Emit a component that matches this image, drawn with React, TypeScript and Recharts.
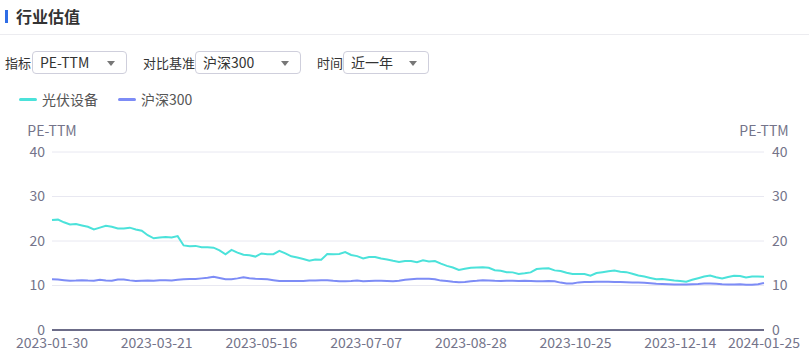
import React from 'react';
import { LineChart, Line, XAxis, YAxis, CartesianGrid } from 'recharts';

const seriesNames = ['光伏设备', '沪深300'];
const seriesColors = ['#4be2da', '#7d8cf6'];

const pvValues = [
  24.7, 24.8, 24.2, 23.7, 23.8, 23.5, 23.2, 22.6, 23.0, 23.4,
  23.2, 22.8, 22.8, 23.0, 22.6, 22.3, 21.3, 20.6, 20.8, 20.9,
  20.8, 21.1, 19.0, 18.8, 18.9, 18.6, 18.6, 18.5, 17.9, 17.0,
  18.0, 17.4, 16.9, 16.8, 16.5, 17.2, 17.05, 17.05, 17.8, 17.2,
  16.55, 16.3, 15.95, 15.55, 15.85, 15.8, 17.05, 17.0, 17.1, 17.5,
  16.85, 16.6, 16.1, 16.4, 16.4, 16.05, 15.85, 15.55, 15.3, 15.5,
  15.5, 15.25, 15.65, 15.4, 15.5, 14.9, 14.4, 14.05, 13.5, 13.75,
  14.0, 14.05, 14.1, 14.0, 13.45, 13.3, 13.0, 12.95, 12.6, 12.75,
  12.95, 13.7, 13.8, 13.85, 13.4, 13.25, 12.85, 12.6, 12.6, 12.6,
  12.2, 12.8, 13.0, 13.2, 13.35, 13.1, 13.0, 12.65, 12.25, 12.0,
  11.7, 11.4, 11.45, 11.3, 11.1, 11.0, 10.85, 11.3, 11.65, 12.0,
  12.25, 11.85, 11.6, 11.9, 12.2, 12.15, 11.8, 12.0, 12.05, 11.95,
];

const hs300Values = [
  11.4, 11.35, 11.2, 11.05, 11.1, 11.2, 11.1, 11.05, 11.3, 11.1,
  11.05, 11.35, 11.35, 11.15, 11.0, 11.05, 11.1, 11.05, 11.2, 11.2,
  11.15, 11.3, 11.4, 11.45, 11.45, 11.6, 11.75, 11.95, 11.7, 11.4,
  11.4, 11.6, 11.85, 11.65, 11.5, 11.45, 11.4, 11.2, 11.0, 11.0,
  11.0, 11.0, 11.0, 11.15, 11.15, 11.2, 11.2, 11.05, 10.95, 10.95,
  11.0, 11.1, 10.95, 11.0, 11.05, 11.05, 11.0, 10.95, 11.05, 11.3,
  11.4, 11.5, 11.5, 11.5, 11.4, 11.1, 11.0, 10.85, 10.75, 10.8,
  10.95, 11.05, 11.2, 11.15, 11.05, 11.0, 11.05, 11.05, 11.0, 11.05,
  11.0, 10.95, 10.95, 11.0, 10.95, 10.65, 10.45, 10.45, 10.7, 10.8,
  10.8, 10.85, 10.85, 10.85, 10.8, 10.8, 10.75, 10.7, 10.65, 10.6,
  10.5, 10.4, 10.35, 10.3, 10.25, 10.25, 10.25, 10.3, 10.35, 10.45,
  10.45, 10.4, 10.3, 10.25, 10.25, 10.3, 10.15, 10.15, 10.3, 10.55,
];

const tickLabels = ['2023-01-30', '2023-03-21', '2023-05-16', '2023-07-07', '2023-08-28', '2023-10-25', '2023-12-14', '2024-01-25'];
const tickPositions = [0, 17.5, 35, 52.5, 70, 87.5, 105, 119];
const yTicks = [0, 10, 20, 30, 40];

const data = pvValues.map((v, i) => ({ idx: i, pv: v, hs: hs300Values[i] }));

const FONT = '"Noto Sans CJK SC", "Noto Sans", sans-serif';
const AXIS_COLOR = '#74748a';

const AxisTitle = (props: any) => {
  const vb = props.viewBox || {};
  const x = props.side === 'left' ? vb.x + vb.width : vb.x;
  return (
    <text x={x} y={vb.y - 22} textAnchor="middle" dominantBaseline="central" fill={AXIS_COLOR} fontSize={14}>
      PE-TTM
    </text>
  );
};

const Select = ({ left, width, text }: { left: number; width: number; text: string }) => (
  <div style={{
    position: 'absolute', left, top: 51, width, height: 23, boxSizing: 'border-box',
    border: '1px solid #cfcfdc', borderRadius: 4, background: '#fff',
  }}>
    <span style={{ position: 'absolute', left: 7, top: 0, lineHeight: '21px', fontSize: 14, color: '#333' }}>{text}</span>
    <span style={{
      position: 'absolute', right: 11, top: 9, width: 0, height: 0,
      borderLeft: '4px solid transparent', borderRight: '4px solid transparent', borderTop: '5px solid #777',
    }} />
  </div>
);

const Lbl = ({ left, text }: { left: number; text: string }) => (
  <span style={{ position: 'absolute', left, top: 53, lineHeight: '20px', fontSize: 13, color: '#333', whiteSpace: 'nowrap' }}>{text}</span>
);

export default function App() {
  return (
    <div style={{ position: 'absolute', left: 0, top: 0, width: 809, height: 356, background: '#fff', fontFamily: FONT, overflow: 'hidden' }}>
      <div style={{ position: 'absolute', left: 5, top: 10, width: 3, height: 13, background: '#2f6de6' }} />
      <div style={{ position: 'absolute', left: 16, top: 5, lineHeight: '22px', fontSize: 16, fontWeight: 700, color: '#333' }}>行业估值</div>
      <div style={{ position: 'absolute', left: 0, top: 34, width: 809, height: 1, background: '#ececf0' }} />

      <Lbl left={5} text="指标" />
      <Select left={32} width={95} text="PE-TTM" />
      <Lbl left={143} text="对比基准" />
      <Select left={195} width={106} text="沪深300" />
      <Lbl left={317} text="时间" />
      <Select left={343} width={86} text="近一年" />

      {seriesNames.map((name, i) => (
        <div key={name} style={{ position: 'absolute', left: i === 0 ? 19 : 118, top: 89, height: 20, display: 'flex', alignItems: 'center' }}>
          <span style={{ display: 'inline-block', width: 18, height: 3, borderRadius: 2, background: seriesColors[i] }} />
          <span style={{ marginLeft: 5, fontSize: 14, color: '#555', lineHeight: '20px' }}>{name}</span>
        </div>
      ))}

      <div style={{ position: 'absolute', left: 0, top: 110 }}>
        <LineChart width={809} height={246} data={data} margin={{ top: 42, right: 0, bottom: 0, left: 0 }}>
          <CartesianGrid vertical={false} stroke="#e8e8f1" yAxisId="left" />
          <XAxis
            dataKey="idx"
            type="number"
            domain={[0, pvValues.length - 1]}
            ticks={tickPositions}
            interval={0}
            tickFormatter={(v: number) => tickLabels[tickPositions.indexOf(v)] ?? ''}
            tickLine={false}
            axisLine={{ stroke: '#6c6c88', strokeWidth: 2 }}
            tick={{ fill: AXIS_COLOR, fontSize: 14 }}
            height={26}
          />
          <YAxis
            yAxisId="left"
            domain={[0, 40]}
            ticks={yTicks}
            width={52}
            axisLine={false}
            tickLine={false}
            tickMargin={1}
            tick={{ fill: AXIS_COLOR, fontSize: 14 }}
            label={<AxisTitle side="left" />}
          />
          <YAxis
            yAxisId="right"
            orientation="right"
            domain={[0, 40]}
            ticks={yTicks}
            width={45}
            axisLine={false}
            tickLine={false}
            tick={{ fill: AXIS_COLOR, fontSize: 14 }}
            label={<AxisTitle side="right" />}
          />
          <Line yAxisId="left" type="linear" dataKey="pv" name={seriesNames[0]} stroke={seriesColors[0]} strokeWidth={2} dot={false} isAnimationActive={false} />
          <Line yAxisId="right" type="linear" dataKey="hs" name={seriesNames[1]} stroke={seriesColors[1]} strokeWidth={2} dot={false} isAnimationActive={false} />
        </LineChart>
      </div>
    </div>
  );
}
